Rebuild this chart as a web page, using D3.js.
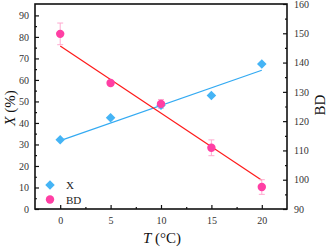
<!DOCTYPE html>
<html>
<head>
<meta charset="utf-8">
<script src="https://cdn.jsdelivr.net/npm/d3@7"></script>
<style>
  body { margin: 0; background: #fff; }
  svg text { font-family: "Liberation Serif", "Times New Roman", serif; }
</style>
</head>
<body>
<script>
// temperature (°C)
var temps = [0, 5, 10, 15, 20];
// conversion X (%) - left axis
var convX = [32.2, 42.4, 48.2, 52.8, 67.4];
// BD - right axis, with error
var bd = [149.8, 133.0, 125.9, 110.9, 97.5];
var bdErr = [3.7, 0.8, 1.5, 2.7, 2.5];
// fitted lines (end points)
var fitT = [0, 20];
var fitX = [31.8, 64.5];
var fitBD = [145.7, 99.8];
var xTicks = [0, 5, 10, 15, 20];
var leftTicks = [0, 10, 20, 30, 40, 50, 60, 70, 80, 90];
var rightTicks = [90, 100, 110, 120, 130, 140, 150, 160];

var w = 329, h = 250;
var L = 35, R = 287, T = 4, B = 209;

var svg = d3.select("body").append("svg").attr("width", w).attr("height", h);

var x = d3.scaleLinear().domain([-2.5, 22.5]).range([L, R]);
var yL = d3.scaleLinear().domain([0, 95.3]).range([B, T]);
var yR = d3.scaleLinear().domain([90, 160]).range([B, T]);

// axes, ticks inside
svg.append("g").attr("transform", "translate(0," + B + ")")
  .call(d3.axisBottom(x).tickValues(xTicks).tickSize(-4).tickPadding(8));
svg.append("g").attr("transform", "translate(0," + B + ")")
  .call(d3.axisBottom(x).tickValues([2.5, 7.5, 12.5, 17.5]).tickSize(-2).tickFormat(""));
svg.append("g").attr("transform", "translate(" + L + ",0)")
  .call(d3.axisLeft(yL).tickValues(leftTicks).tickSize(-4).tickPadding(6));
svg.append("g").attr("transform", "translate(" + L + ",0)")
  .call(d3.axisLeft(yL).tickValues(d3.range(5, 95, 10)).tickSize(-2).tickFormat(""));
svg.append("g").attr("transform", "translate(" + R + ",0)")
  .call(d3.axisRight(yR).tickValues(rightTicks).tickSize(-4).tickPadding(7));
svg.append("g").attr("transform", "translate(" + R + ",0)")
  .call(d3.axisRight(yR).tickValues(d3.range(95, 160, 10)).tickSize(-2).tickFormat(""));

svg.selectAll(".domain").remove();
svg.selectAll(".tick line").attr("stroke", "#111").attr("stroke-width", 1.2);
svg.selectAll(".tick text").attr("font-size", "10px").attr("fill", "#333")
  .style("font-family", "Liberation Serif, serif");

// frame
svg.append("rect").attr("x", L).attr("y", T).attr("width", R - L).attr("height", B - T)
  .attr("fill", "none").attr("stroke", "#111").attr("stroke-width", 1.6);

// fit lines
var lineX = d3.line().x(function(d, i) { return x(fitT[i]); }).y(function(d) { return yL(d); });
var lineBD = d3.line().x(function(d, i) { return x(fitT[i]); }).y(function(d) { return yR(d); });
svg.append("path").attr("d", lineX(fitX)).attr("fill", "none").attr("stroke", "#33aaf2").attr("stroke-width", 1.2);
svg.append("path").attr("d", lineBD(fitBD)).attr("fill", "none").attr("stroke", "#ff1a1a").attr("stroke-width", 1.2);

// error bars for BD
var eb = svg.append("g").attr("stroke", "#ffaad0").attr("stroke-width", 1);
temps.forEach(function(t, i) {
  var cx = x(t), y1 = yR(bd[i] + bdErr[i]), y2 = yR(bd[i] - bdErr[i]);
  eb.append("line").attr("x1", cx).attr("x2", cx).attr("y1", y1).attr("y2", y2);
  eb.append("line").attr("x1", cx - 3).attr("x2", cx + 3).attr("y1", y1).attr("y2", y1);
  eb.append("line").attr("x1", cx - 3).attr("x2", cx + 3).attr("y1", y2).attr("y2", y2);
});

// markers
var diamond = d3.symbol().type(d3.symbolDiamond2).size(58);
svg.selectAll(".dx").data(convX).enter().append("path")
  .attr("d", diamond)
  .attr("transform", function(d, i) { return "translate(" + x(temps[i]) + "," + yL(d) + ")"; })
  .attr("fill", "#45b4f5");
svg.selectAll(".dbd").data(bd).enter().append("circle")
  .attr("cx", function(d, i) { return x(temps[i]); })
  .attr("cy", function(d) { return yR(d); })
  .attr("r", 4.2)
  .attr("fill", "#ff3fa4");

// legend
svg.append("path").attr("d", diamond).attr("transform", "translate(50,185)").attr("fill", "#45b4f5");
svg.append("text").attr("x", 66).attr("y", 189).attr("font-size", "11px").attr("fill", "#222").text("X");
svg.append("circle").attr("cx", 50).attr("cy", 199.5).attr("r", 4.2).attr("fill", "#ff3fa4");
svg.append("text").attr("x", 66).attr("y", 203.5).attr("font-size", "11px").attr("fill", "#222").text("BD");

// axis titles
var tx = svg.append("text").attr("x", 162).attr("y", 243).attr("text-anchor", "middle")
  .attr("font-size", "15px").attr("fill", "#111");
tx.append("tspan").attr("font-style", "italic").text("T");
tx.append("tspan").text(" (°C)");

var tl = svg.append("text").attr("transform", "translate(15,108) rotate(-90)").attr("text-anchor", "middle")
  .attr("font-size", "15px").attr("fill", "#111");
tl.append("tspan").attr("font-style", "italic").text("X");
tl.append("tspan").text(" (%)");

svg.append("text").attr("transform", "translate(325,105) rotate(-90)").attr("text-anchor", "middle")
  .attr("font-size", "15px").attr("fill", "#111").text("BD");
</script>
</body>
</html>
